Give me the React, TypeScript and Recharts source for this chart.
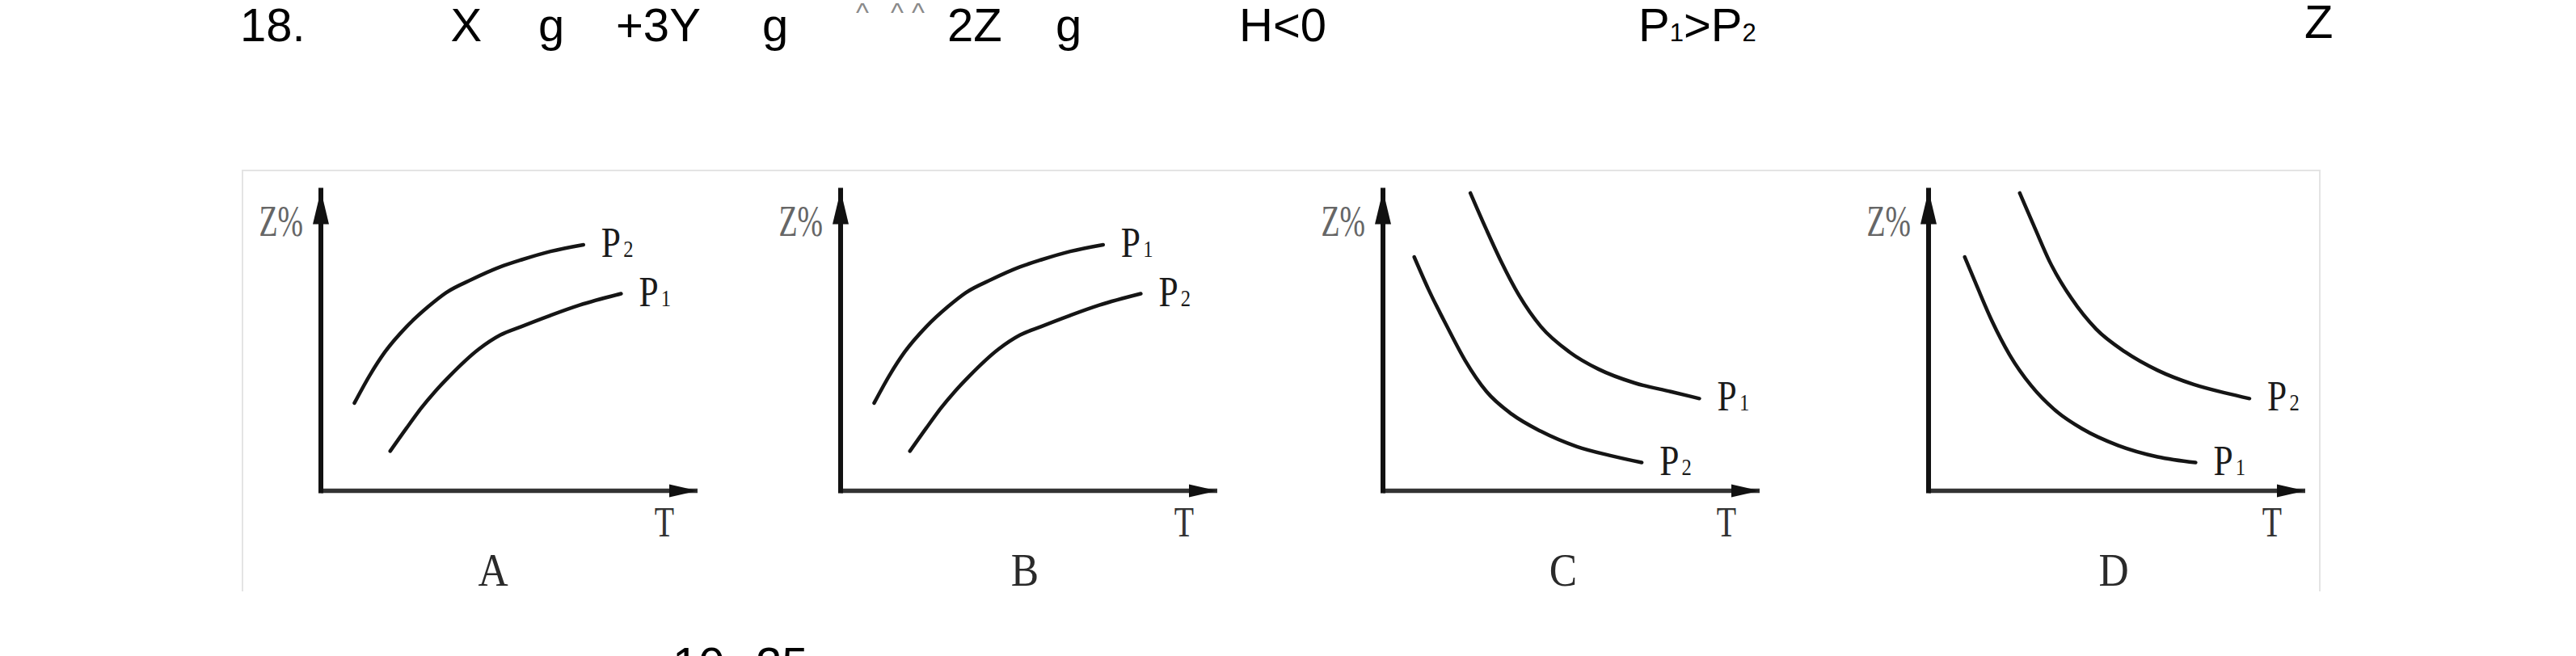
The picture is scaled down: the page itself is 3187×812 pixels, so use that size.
import React from 'react';
import { LineChart, Line, XAxis, YAxis } from 'recharts';

type Pt = { t: number; z: number };

// Rising curves (panels A and B): same shape, one shifted down/right
const riseHigh: Pt[] = [
  { t: 8.9, z: 29.2 }, { t: 13.1, z: 38.7 }, { t: 17.0, z: 46.2 }, { t: 22.8, z: 54.7 },
  { t: 28.5, z: 61.3 }, { t: 33.3, z: 66.0 }, { t: 40.0, z: 70.3 }, { t: 47.6, z: 74.5 },
  { t: 53.3, z: 76.9 }, { t: 61.0, z: 79.7 }, { t: 69.7, z: 81.9 },
];
const riseLow: Pt[] = [
  { t: 18.4, z: 13.2 }, { t: 22.7, z: 20.8 }, { t: 26.5, z: 27.3 }, { t: 30.3, z: 33.0 },
  { t: 34.2, z: 38.2 }, { t: 41.9, z: 47.1 }, { t: 47.6, z: 51.8 }, { t: 53.3, z: 54.7 },
  { t: 61.0, z: 58.4 }, { t: 68.7, z: 61.8 }, { t: 79.7, z: 65.6 },
];

// Falling curves (panel C)
const fallHighC: Pt[] = [
  { t: 23.2, z: 99.1 }, { t: 27.5, z: 86.8 }, { t: 31.3, z: 76.5 }, { t: 36.1, z: 65.1 },
  { t: 41.9, z: 54.7 }, { t: 49.5, z: 46.2 }, { t: 57.2, z: 40.5 }, { t: 66.8, z: 35.9 },
  { t: 76.4, z: 33.0 }, { t: 84.0, z: 30.7 },
];
const fallLowC: Pt[] = [
  { t: 8.3, z: 77.8 }, { t: 12.1, z: 67.0 }, { t: 17.0, z: 54.7 }, { t: 21.8, z: 43.4 },
  { t: 27.5, z: 33.0 }, { t: 34.2, z: 25.5 }, { t: 41.9, z: 19.8 }, { t: 51.5, z: 14.7 },
  { t: 60.1, z: 11.8 }, { t: 68.7, z: 9.4 },
];

// Falling curves (panel D)
const fallHighD: Pt[] = [
  { t: 24.2, z: 99.1 }, { t: 28.3, z: 87.2 }, { t: 32.1, z: 76.4 }, { t: 37.9, z: 64.1 },
  { t: 44.5, z: 53.8 }, { t: 52.2, z: 46.2 }, { t: 60.8, z: 40.1 }, { t: 70.4, z: 35.4 },
  { t: 79.0, z: 32.5 }, { t: 85.2, z: 30.7 },
];
const fallLowD: Pt[] = [
  { t: 9.6, z: 77.8 }, { t: 12.9, z: 67.9 }, { t: 16.8, z: 56.6 }, { t: 21.5, z: 45.3 },
  { t: 27.3, z: 34.9 }, { t: 34.0, z: 26.4 }, { t: 40.7, z: 20.7 }, { t: 50.3, z: 15.1 },
  { t: 60.8, z: 11.3 }, { t: 70.9, z: 9.4 },
];

const panelLetters = ['A', 'B', 'C', 'D'];
const upperSubs = ['2', '1', '1', '2'];
const lowerSubs = ['1', '2', '2', '1'];
const upperCurves = [riseHigh, riseHigh, fallHighC, fallHighD];
const lowerCurves = [riseLow, riseLow, fallLowC, fallLowD];
const yAxisLabel = 'Z%';
const xAxisLabel = 'T';

// header text tokens (each token: list of [text, isSubscript])
const headerTexts: [string, boolean][][] = [
  [['18.', false]],
  [['X', false]],
  [['g', false]],
  [['+3Y', false]],
  [['g', false]],
  [['^', false]],
  [['^', false]],
  [['^', false]],
  [['2Z', false]],
  [['g', false]],
  [['H<0', false]],
  [['P', false], ['1', true], ['>', false], ['P', false], ['2', true]],
  [['Z', false]],
  [['10', false]],
  [['25', false]],
];

// layout (positions / sizes, kept separate from data)
const headerLayout = [
  { x: 297, y: 50.5, s: 58 }, { x: 557.5, y: 50.5, s: 58 }, { x: 666, y: 50.5, s: 58 },
  { x: 762, y: 50.5, s: 58 }, { x: 943, y: 50.5, s: 58 },
  { x: 1059, y: 27, s: 34, c: '#8a8a8a' }, { x: 1102, y: 27, s: 34, c: '#8a8a8a' }, { x: 1128, y: 27, s: 34, c: '#8a8a8a' },
  { x: 1172, y: 50.5, s: 58 }, { x: 1306, y: 50.5, s: 58 }, { x: 1533, y: 50.5, s: 58 },
  { x: 2027, y: 50.5, s: 58 },
  { x: 2851, y: 47, s: 58 }, { x: 832, y: 842, s: 58 }, { x: 935, y: 842, s: 58 },
];
const SUB_SIZE = 31;
const panelAxisX = [397.4, 1039.5, 1710.6, 2386];
const letterOffsets = [213, 228, 223, 229];
const PLOT_W = 466;
const PLOT_H = 371.9;
const PLOT_TOP = 235.6;
const CH_LEFT_PAD = 100;
const CH_TOP = 200;
const CH_W = 606;
const CH_H = 560;
const AXIS_SZ = 1;

const serif = '"Liberation Serif", "Times New Roman", serif';
const sans = '"Liberation Sans", Arial, sans-serif';

const YDecor = (props: any) => {
  const vb = props.viewBox || {};
  const x = (vb.x || 0) + (vb.width || 0);
  const y = vb.y || 0;
  return (
    <g>
      <polygon points={`${x},${y} ${x - 10},${y + 42} ${x + 10},${y + 42}`} fill="#111" />
      <text
        transform={`translate(${x - 22},${y + 56.5}) scale(0.7,1)`}
        textAnchor="end"
        fontFamily={serif}
        fontSize={54}
        fill="#666"
      >
        {yAxisLabel}
      </text>
    </g>
  );
};

const makeXDecor = (letter: string, letterDx: number) => (props: any) => {
  const vb = props.viewBox || {};
  const x = vb.x || 0;
  const y = vb.y || 0;
  const w = vb.width || 0;
  const tip = x + w;
  return (
    <g>
      <polygon points={`${tip},${y} ${tip - 35},${y - 8} ${tip - 35},${y + 8}`} fill="#111" />
      <text
        transform={`translate(${tip - 41},${y + 56.5}) scale(0.75,1)`}
        textAnchor="middle"
        fontFamily={serif}
        fontSize={53}
        fill="#333"
      >
        {xAxisLabel}
      </text>
      <text
        transform={`translate(${x + letterDx},${y + 117.5}) scale(0.92,1)`}
        textAnchor="middle"
        fontFamily={serif}
        fontSize={56}
        fill="#2a2a2a"
      >
        {letter}
      </text>
    </g>
  );
};

const makeCurveLabel = (sub: string, lastIndex: number) => (p: any) => {
  if (p.index !== lastIndex) return <g />;
  return (
    <text
      transform={`translate(${p.x + 22},${p.y + 15}) scale(0.82,1)`}
      fontFamily={serif}
      fill="#1a1a1a"
    >
      <tspan fontSize={53}>P</tspan>
      <tspan fontSize={30} dx={4}>{sub}</tspan>
    </text>
  );
};

const Panel = ({ i }: { i: number }) => {
  const ax = panelAxisX[i];
  const marginTop = PLOT_TOP - CH_TOP;
  const margin = {
    top: marginTop,
    left: CH_LEFT_PAD - AXIS_SZ,
    right: CH_W - CH_LEFT_PAD - PLOT_W,
    bottom: CH_H - marginTop - PLOT_H - AXIS_SZ,
  };
  const up = upperCurves[i];
  const lo = lowerCurves[i];
  return (
    <div style={{ position: 'absolute', left: ax - CH_LEFT_PAD, top: CH_TOP, width: CH_W, height: CH_H }}>
      <LineChart width={CH_W} height={CH_H} margin={margin}>
        <XAxis
          type="number"
          dataKey="t"
          domain={[0, 100]}
          height={AXIS_SZ}
          tick={false}
          tickLine={false}
          axisLine={{ stroke: '#333', strokeWidth: 5.5 }}
          label={makeXDecor(panelLetters[i], letterOffsets[i])}
        />
        <YAxis
          type="number"
          dataKey="z"
          domain={[0, 100]}
          width={AXIS_SZ}
          tick={false}
          tickLine={false}
          axisLine={{ stroke: '#111', strokeWidth: 6, strokeLinecap: 'square' }}
          label={YDecor}
        />
        <Line
          data={up}
          dataKey="z"
          type="monotone"
          stroke="#151515"
          strokeWidth={4.5}
          strokeLinecap="round"
          dot={false}
          activeDot={false}
          isAnimationActive={false}
          label={makeCurveLabel(upperSubs[i], up.length - 1)}
        />
        <Line
          data={lo}
          dataKey="z"
          type="monotone"
          stroke="#151515"
          strokeWidth={4.5}
          strokeLinecap="round"
          dot={false}
          activeDot={false}
          isAnimationActive={false}
          label={makeCurveLabel(lowerSubs[i], lo.length - 1)}
        />
      </LineChart>
    </div>
  );
};

export default function App() {
  return (
    <div
      style={{
        position: 'relative',
        width: 3187,
        height: 812,
        overflow: 'hidden',
        background: '#fff',
      }}
    >
      <style>{'html,body{margin:0;padding:0;overflow:hidden;background:#fff}'}</style>
      <div
        style={{
          position: 'absolute',
          left: 299,
          top: 210,
          width: 2572,
          height: 522,
          boxSizing: 'border-box',
          borderTop: '2px solid #e4e4e4',
          borderLeft: '2px solid #e4e4e4',
          borderRight: '2px solid #e4e4e4',
        }}
      />
      <svg width={3187} height={812} style={{ position: 'absolute', left: 0, top: 0 }}>
        {headerTexts.map((parts, k) => {
          const L = headerLayout[k] as any;
          return (
            <text key={k} x={L.x} y={L.y} fontFamily={sans} fontSize={L.s} fill={L.c || '#000'}>
              {parts.map(([t, sub], j) => (
                <tspan key={j} fontSize={sub ? SUB_SIZE : L.s}>
                  {t}
                </tspan>
              ))}
            </text>
          );
        })}
      </svg>
      {panelLetters.map((_, i) => (
        <Panel key={i} i={i} />
      ))}
    </div>
  );
}
